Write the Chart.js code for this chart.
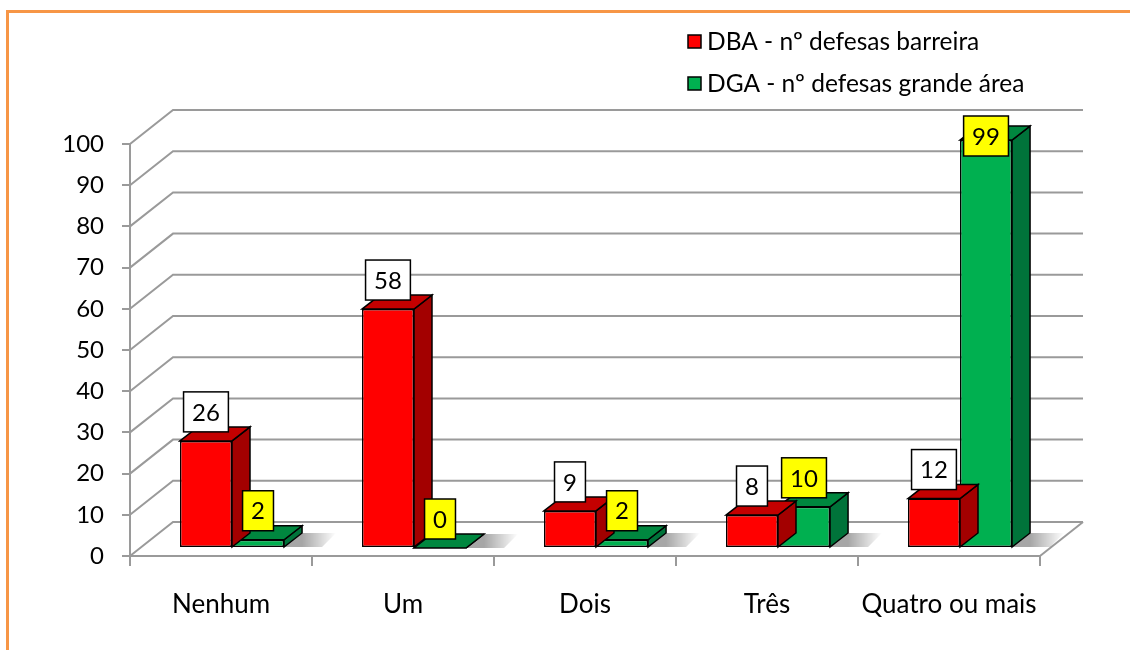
<!DOCTYPE html>
<html>
<head>
<meta charset="utf-8">
<script src="https://cdn.jsdelivr.net/npm/chart.js@4"></script>
<style>
  html, body { margin: 0; padding: 0; background: #fff; }
  #wrap { position: relative; width: 1130px; height: 650px; }
  #frame { position: absolute; left: 6px; top: 10px; right: 0; bottom: 0;
           border-top: 3px solid #F79646; border-left: 3px solid #F79646; }
  canvas { position: absolute; left: 0; top: 0; }
</style>
</head>
<body>
<div id="wrap">
  <div id="frame"></div>
  <canvas id="chart" width="1130" height="650"></canvas>
</div>
<script>
    // values
    const categories = ['Nenhum', 'Um', 'Dois', 'Três', 'Quatro ou mais'];
    const dba_values = [26, 58, 9, 8, 12];
    const dga_values = [2, 0, 2, 10, 99];
    const series_labels = ['DBA - nº defesas barreira', 'DGA - nº defesas grande área'];

    const FONT = 'Lato';
    const FONT_SIZE = 24;
    const GRID = '#9a9a9a';

    // faux 3d: back wall offset, bar plane offset, bar depth
    const wall  = { dx: 43, dy: -34 };
    const plane = { dx: 11, dy: -8 };
    const depth = { dx: 18, dy: -14 };

    const face_colors = [
        { front: '#FF0000', side: '#A30000', top: '#C40000', box: '#FFFFFF' },
        { front: '#00B050', side: '#00733A', top: '#00873F', box: '#FFFF00' }
    ];

    function poly( ctx, pts, fill ){
        ctx.beginPath();
        ctx.moveTo( pts[0][0], pts[0][1] );
        for( let i = 1; i < pts.length; i++ ) ctx.lineTo( pts[i][0], pts[i][1] );
        ctx.closePath();
        ctx.fillStyle = fill;
        ctx.fill();
        ctx.lineWidth = 1.5;
        ctx.strokeStyle = '#000';
        ctx.stroke();
    }

    const walls_plugin = {
        id: 'walls3d',
        beforeDatasetsDraw( chart ){
            const ctx = chart.ctx;
            const y = chart.scales.y;
            const left = chart.chartArea.left, right = chart.chartArea.right;
            ctx.save();
            ctx.strokeStyle = GRID;
            ctx.lineWidth = 2;
            y.ticks.forEach( t => {
                const py = y.getPixelForValue( t.value );
                ctx.beginPath();
                ctx.moveTo( left, py );
                ctx.lineTo( left + wall.dx, py + wall.dy );
                ctx.lineTo( right + wall.dx, py + wall.dy );
                ctx.stroke();
            });
            // right edge of the floor
            const py0 = y.getPixelForValue( 0 );
            ctx.beginPath();
            ctx.moveTo( right, py0 );
            ctx.lineTo( right + wall.dx, py0 + wall.dy );
            ctx.stroke();

            // soft shadow to the right of each group
            const meta = chart.getDatasetMeta( chart.data.datasets.length - 1 );
            meta.data.forEach( bar => {
                const r  = bar.x + bar.width / 2 + plane.dx + depth.dx;
                const by = bar.base + plane.dy;
                const g  = ctx.createLinearGradient( r, 0, r + 34, 0 );
                g.addColorStop( 0, 'rgba(0,0,0,0.35)' );
                g.addColorStop( 1, 'rgba(0,0,0,0)' );
                ctx.beginPath();
                ctx.moveTo( r - depth.dx, by );
                ctx.lineTo( r, by + depth.dy );
                ctx.lineTo( r + 34, by + depth.dy );
                ctx.lineTo( r + 20, by );
                ctx.closePath();
                ctx.fillStyle = g;
                ctx.fill();
            });
            ctx.restore();

            // bars sit a bit into the depth
            ctx.save();
            ctx.translate( plane.dx, plane.dy );
        },
        afterDatasetDraw( chart, args ){
            const ctx = chart.ctx;
            const c = face_colors[ args.index ];
            args.meta.data.forEach( bar => {
                const l = bar.x - bar.width / 2, r = bar.x + bar.width / 2;
                const top = bar.y, base = bar.base;
                poly( ctx, [ [r, base], [r, top], [r + depth.dx, top + depth.dy], [r + depth.dx, base + depth.dy] ], c.side );
                poly( ctx, [ [l, top], [l + depth.dx, top + depth.dy], [r + depth.dx, top + depth.dy], [r, top] ], c.top );
            });
        },
        afterDatasetsDraw( chart ){
            const ctx = chart.ctx;
            ctx.restore();

            // value boxes
            const y_top = chart.scales.y.getPixelForValue( 100 ) + plane.dy;
            ctx.save();
            ctx.font = FONT_SIZE + 'px ' + FONT;
            ctx.textAlign = 'center';
            ctx.textBaseline = 'middle';
            chart.data.datasets.forEach( ( ds, di ) => {
                const meta = chart.getDatasetMeta( di );
                meta.data.forEach( ( bar, i ) => {
                    const txt = String( ds.data[i] );
                    const w = ctx.measureText( txt ).width + 17;
                    const h = 40;
                    const cx = bar.x + plane.dx;
                    let top = bar.y + plane.dy - 9 - h;
                    if( top < y_top - 20 ) top = y_top - 20;
                    ctx.fillStyle = face_colors[di].box;
                    ctx.fillRect( cx - w / 2, top, w, h );
                    ctx.lineWidth = 1.5;
                    ctx.strokeStyle = '#000';
                    ctx.strokeRect( cx - w / 2, top, w, h );
                    ctx.fillStyle = '#000';
                    ctx.fillText( txt, cx, top + h / 2 + 1 );
                });
            });
            ctx.restore();
        },
        afterDraw( chart ){
            // legend, stacked top right
            const ctx = chart.ctx;
            ctx.save();
            ctx.font = '24.5px ' + FONT;
            ctx.textBaseline = 'middle';
            chart.data.datasets.forEach( ( ds, i ) => {
                const cy = 42 + i * 42;
                ctx.fillStyle = ds.backgroundColor;
                ctx.fillRect( 688, cy - 7, 13, 13 );
                ctx.lineWidth = 1.5;
                ctx.strokeStyle = '#000';
                ctx.strokeRect( 688, cy - 7, 13, 13 );
                ctx.fillStyle = '#000';
                ctx.fillText( ds.label, 707, cy );
            });
            ctx.restore();
        }
    };

    const config = {
        type: 'bar',
        data: {
            labels: categories,
            datasets: [
                { label: series_labels[0], data: dba_values, backgroundColor: face_colors[0].front },
                { label: series_labels[1], data: dga_values, backgroundColor: face_colors[1].front }
            ]
        },
        options: {
            responsive: false,
            animation: false,
            devicePixelRatio: 1,
            layout: { padding: { top: 144, right: 90, left: 0, bottom: 0 } },
            datasets: {
                bar: {
                    borderColor: '#000',
                    borderWidth: 1.5,
                    borderSkipped: false,
                    categoryPercentage: 0.572,
                    barPercentage: 1,
                    clip: false
                }
            },
            scales: {
                y: {
                    min: 0,
                    max: 100,
                    afterFit: s => { s.width = 130; },
                    ticks: { stepSize: 10, padding: 18, color: '#000', font: { family: FONT, size: FONT_SIZE } },
                    grid: { drawOnChartArea: false, tickLength: 8, color: GRID, lineWidth: 2 },
                    border: { color: GRID, width: 2 }
                },
                x: {
                    afterFit: s => { s.height = 94; },
                    ticks: { padding: 23, autoSkip: false, maxRotation: 0, minRotation: 0, color: '#000', font: { family: FONT, size: 26 } },
                    grid: { drawOnChartArea: false, tickLength: 10, color: GRID, lineWidth: 2, offset: true },
                    border: { color: GRID, width: 2 }
                }
            },
            plugins: {
                legend: { display: false },
                tooltip: { enabled: false }
            }
        },
        plugins: [ walls_plugin ]
    };

    new Chart( document.getElementById('chart'), config );
</script>
</body>
</html>
